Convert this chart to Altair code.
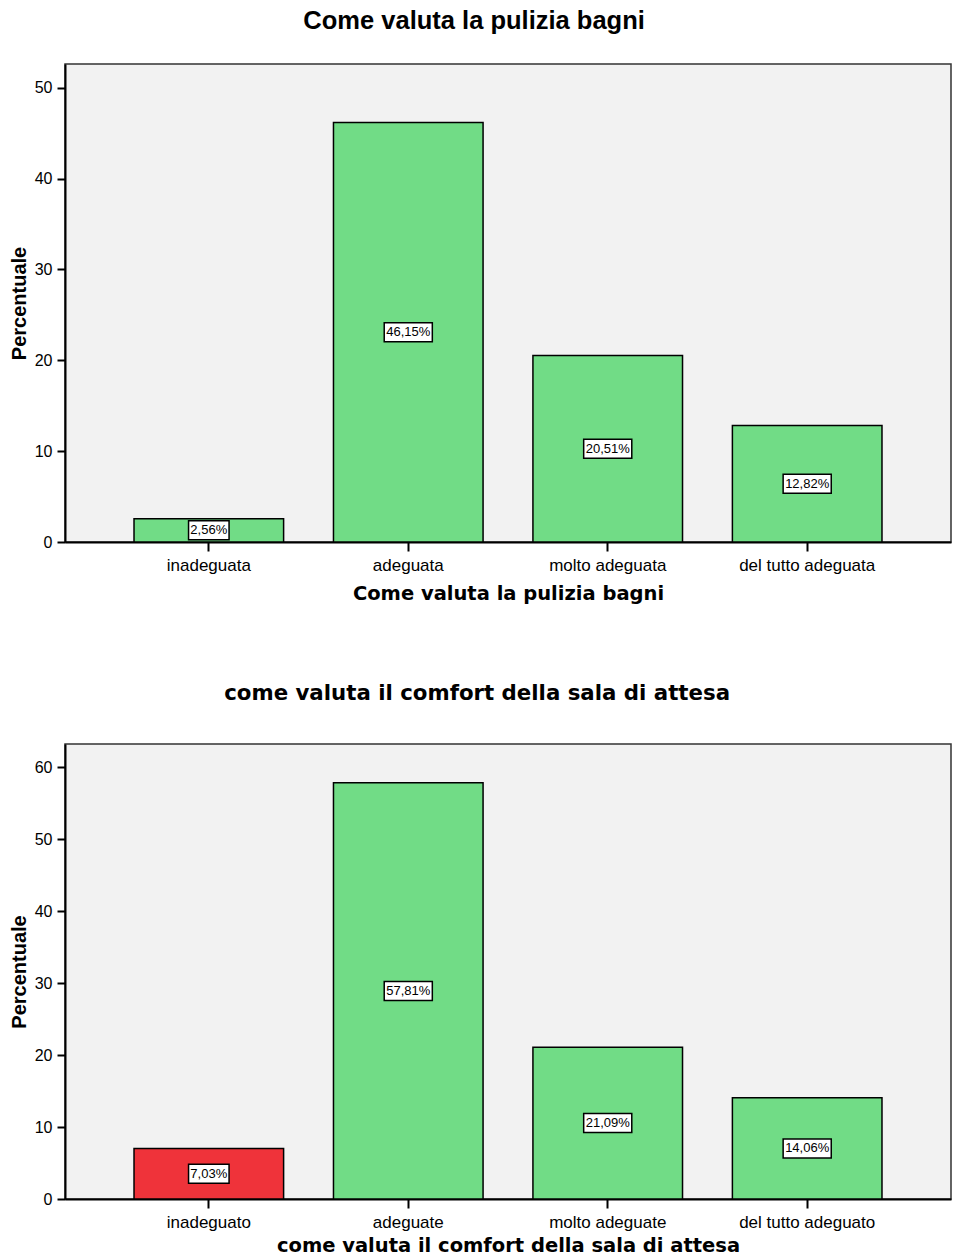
import altair as alt
import pandas as pd

# ---- data ----
CATS_1 = ["inadeguata", "adeguata", "molto adeguata", "del tutto adeguata"]
PCT_1 = [2.56, 46.15, 20.51, 12.82]
TITLE_1 = "Come valuta la pulizia bagni"
HIGHLIGHT_1 = []
Y_TICKS_1 = [0, 10, 20, 30, 40, 50]

CATS_2 = ["inadeguato", "adeguate", "molto adeguate", "del tutto adeguato"]
PCT_2 = [7.03, 57.81, 21.09, 14.06]
TITLE_2 = "come valuta il comfort della sala di attesa"
HIGHLIGHT_2 = ["inadeguato"]
Y_TICKS_2 = [0, 10, 20, 30, 40, 50, 60]

Y_TITLE = "Percentuale"

GREEN = "#71DC86"
RED = "#EF333A"
REG = "Liberation Sans, Arial, sans-serif"
WIDE = "DejaVu Sans, Verdana, sans-serif"


def panel(cats, pct, highlight, ticks, title, ymax, height,
          title_font, title_size, title_offset, title_dx, xtitle_pad):
    df = pd.DataFrame({"cat": cats, "pct": pct})
    df["hl"] = df["cat"].isin(highlight)

    base = alt.Chart(df).transform_calculate(
        mid="datum.pct / 2",
        label="replace(format(datum.pct, '.2f'), '.', ',') + '%'",
    ).transform_calculate(
        hw="(length(datum.label) * 7.6 + 2.5) / 2 / 25",
    ).transform_calculate(
        box="'M' + (-datum.hw) + ',-0.38H' + datum.hw + 'V0.38H' + (-datum.hw) + 'Z'",
    )

    xscale = alt.Scale(paddingInner=0.25, paddingOuter=0.346)
    x = alt.X(
        "cat:N", sort=cats, title=title, scale=xscale,
        axis=alt.Axis(
            labelAngle=0, labelFont=REG, labelFontSize=17, labelColor="black",
            labelPadding=6, tickSize=9, tickWidth=2, tickColor="black",
            domainColor="black", domainWidth=2,
            titleFont=WIDE, titleFontSize=19.5, titleFontWeight="bold",
            titleColor="black", titlePadding=xtitle_pad,
        ),
    )
    yscale = alt.Scale(domain=[0, ymax], nice=False, zero=True)
    y_axis = alt.Axis(
        values=ticks, grid=False, labelFont=REG, labelFontSize=16,
        labelColor="black", labelPadding=5, tickSize=8, tickWidth=2,
        tickColor="black", domainColor="black", domainWidth=2,
        title=Y_TITLE, titleFont=REG, titleFontSize=20,
        titleFontWeight="bold", titleColor="black", titlePadding=5,
    )

    bars = base.mark_bar(stroke="black", strokeWidth=1.5).encode(
        x=x,
        y=alt.Y("pct:Q", scale=yscale, axis=y_axis),
        color=alt.when(alt.datum.hl).then(alt.value(RED)).otherwise(alt.value(GREEN)),
    )
    boxes = base.mark_point(
        filled=True, fill="white", stroke="black", strokeWidth=1.5,
        size=2500, opacity=1,
    ).encode(
        x=alt.X("cat:N", sort=cats, scale=xscale),
        y=alt.Y("mid:Q", scale=yscale),
        shape=alt.Shape("box:N", scale=None),
    )
    texts = base.mark_text(font=REG, fontSize=13, color="black").encode(
        x=alt.X("cat:N", sort=cats, scale=xscale),
        y=alt.Y("mid:Q", scale=yscale),
        text="label:N",
    )
    return alt.layer(bars, boxes, texts).properties(
        width=886, height=height,
        title=alt.TitleParams(
            text=title, font=title_font, fontSize=title_size,
            fontWeight="bold", color="black", anchor="middle",
            frame="bounds", offset=title_offset, dx=title_dx,
        ),
    )


top = panel(CATS_1, PCT_1, HIGHLIGHT_1, Y_TICKS_1, TITLE_1, 52.6, 478,
            REG, 25.5, 29.5, -6, 11)
bottom = panel(CATS_2, PCT_2, HIGHLIGHT_2, Y_TICKS_2, TITLE_2, 63.2, 455,
               WIDE, 21.3, 40, -3, 6)

chart = alt.vconcat(top, bottom, spacing=77).configure_view(
    fill="#F2F2F2", stroke="#333333", strokeWidth=1.5
).properties(
    padding={"left": 0, "top": 0, "right": 0, "bottom": 0},
    background="white",
)

chart.save("out.html", embed_options={"renderer": "svg", "actions": False})
